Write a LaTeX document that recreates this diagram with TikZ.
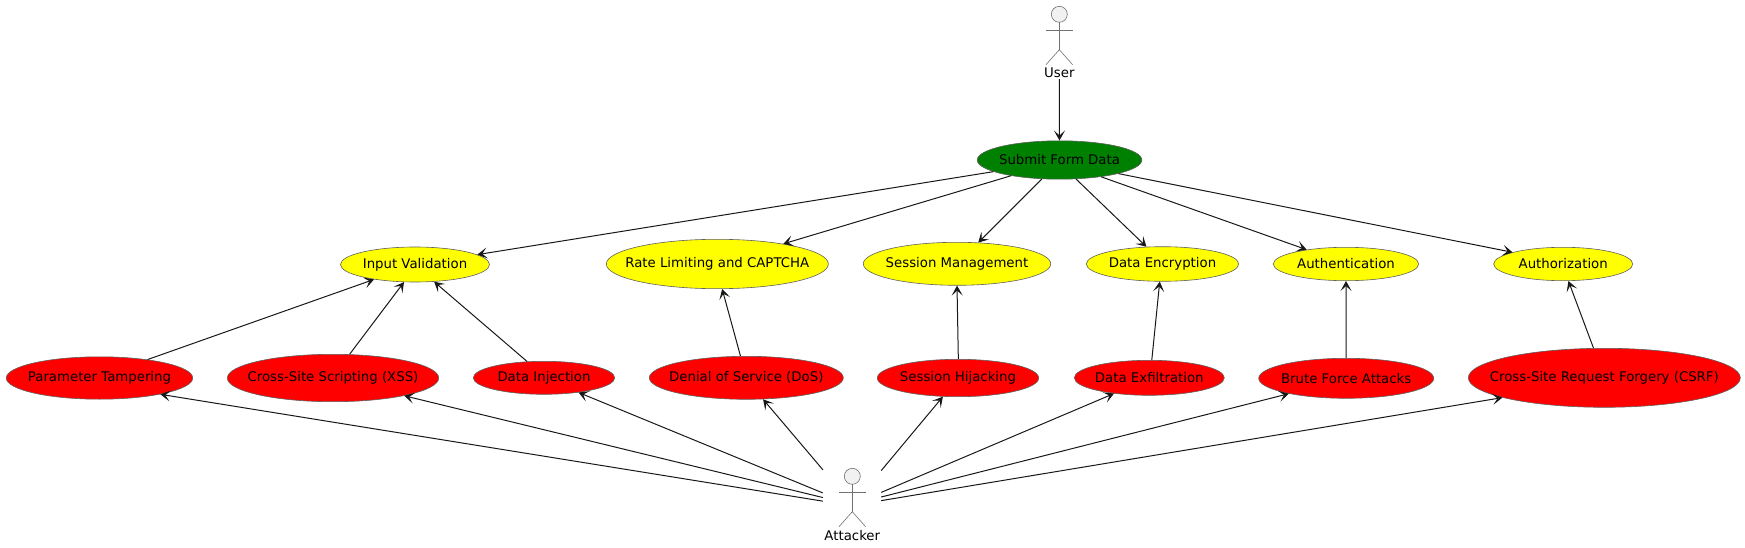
\documentclass[tikz,border=0pt]{standalone}
\usepackage{fontspec}
\setmainfont{DejaVu Sans}
\usepackage{tikz}
\usetikzlibrary{shapes.geometric}
\usetikzlibrary{arrows.meta}
\definecolor{webgreen}{HTML}{008000}
\definecolor{webyellow}{HTML}{FFFF00}
\definecolor{webred}{HTML}{FF0000}
\definecolor{inkline}{HTML}{181818}
\definecolor{rimline}{HTML}{606060}
\definecolor{stickgray}{HTML}{707070}
\definecolor{headfill}{HTML}{F1F1F1}
\tikzset{
  usecase/.style 2 args={ellipse,draw=rimline,line width=0.6pt,inner sep=-30pt,minimum width=#1pt,minimum height=#2pt,font=\fontsize{13.3}{16}\selectfont,text=black},
  actorname/.style={inner sep=1pt,font=\fontsize{13.3}{16}\selectfont,text=black},
  actorbox/.style={rectangle,inner sep=0pt,minimum width=58pt,minimum height=52pt},
  stickline/.style={draw=stickgray,line width=0.6pt},
  flow/.style={-{Stealth[length=10pt,width=11pt,inset=5pt]},draw=inkline,line width=1pt}
}
\newcommand{\stickfig}{
\draw[stickline,fill=headfill] (0,0) circle[radius=8];
\draw[stickline] (0,8) -- (0,35.4);
\draw[stickline] (-13.3,16) -- (13.3,16);
\draw[stickline] (-13.3,50.4) -- (0,35.4) -- (13.3,50.4);
}
\begin{document}
\begin{tikzpicture}[x=1pt,y=-1pt]
\useasboundingbox (0,0) rectangle (1745,548);
\begin{scope}[shift={(1059.3,14.3)}]
\stickfig
\end{scope}
\begin{scope}[shift={(852.3,476.3)}]
\stickfig
\end{scope}
\node[actorname] (user) at (1059.3,73) {User};
\node[actorbox] (attacker) at (852,496) {};
\node[actorname] (attackername) at (852.3,536) {Attacker};
\node[usecase={164.6}{38.4},fill=webgreen] (submit) at (1059.5,160) {Submit Form Data};
\node[usecase={149}{35},fill=webyellow] (input) at (415,264.5) {Input Validation};
\node[usecase={222}{49.4},fill=webyellow] (rate) at (717.3,264) {Rate Limiting and CAPTCHA};
\node[usecase={187.4}{43},fill=webyellow] (session) at (957,263.8) {Session Management};
\node[usecase={152.4}{34.6},fill=webyellow] (encryption) at (1162.5,264) {Data Encryption};
\node[usecase={145.4}{33.4},fill=webyellow] (authn) at (1346,264) {Authentication};
\node[usecase={139}{33.4},fill=webyellow] (authz) at (1563.2,264) {Authorization};
\node[usecase={186.4}{42.4},fill=webred] (tampering) at (99.5,378) {Parameter Tampering};
\node[usecase={211.4}{47.4},fill=webred] (xss) at (333,378) {Cross-Site Scripting (XSS)};
\node[usecase={141.4}{33},fill=webred] (injection) at (544,377.8) {Data Injection};
\node[usecase={194}{43},fill=webred] (dos) at (746.3,377.8) {Denial of Service (DoS)};
\node[usecase={161.4}{37.4},fill=webred] (hijacking) at (958,378) {Session Hijacking};
\node[usecase={150}{35},fill=webred] (exfiltration) at (1149.3,377.8) {Data Exfiltration};
\node[usecase={175}{40},fill=webred] (brute) at (1346.2,378.3) {Brute Force Attacks};
\node[usecase={272}{59},fill=webred] (csrf) at (1604.3,377.8) {Cross-Site Request Forgery (CSRF)};
\draw[flow] (user) -- (submit.90);
\draw[flow] (submit.190) -- (input.9.7);
\draw[flow] (submit.198.3) -- (rate.17.6);
\draw[flow] (submit.227.8) -- (session.45.3);
\draw[flow] (submit.311.7) -- (encryption.133.6);
\draw[flow] (submit.338.9) -- (authn.160);
\draw[flow] (submit.347.7) -- (authz.167.2);
\draw[flow] (tampering.21.3) -- (input.200.7);
\draw[flow] (xss.55.5) -- (input.238.1);
\draw[flow] (injection.136.4) -- (input.318);
\draw[flow] (dos.105.6) -- (rate.281.4);
\draw[flow] (hijacking.89) -- (session.270);
\draw[flow] (exfiltration.82.2) -- (encryption.261.8);
\draw[flow] (brute.90) -- (authn.270);
\draw[flow] (csrf.110.4) -- (authz.287);
\draw[flow] (attacker.190.4) -- (tampering.345);
\draw[flow] (attacker.183.9) -- (xss.346.4);
\draw[flow] (attacker.174.7) -- (injection.337.1);
\draw[flow] (attacker.138.9) -- (dos.308.3);
\draw[flow] (attacker.41.1) -- (hijacking.231.8);
\draw[flow] (attacker.7.3) -- (exfiltration.204.3);
\draw[flow] (attacker.-2) -- (brute.195.4);
\draw[flow] (attacker.-9.2) -- (csrf.191.5);
\end{tikzpicture}
\end{document}
